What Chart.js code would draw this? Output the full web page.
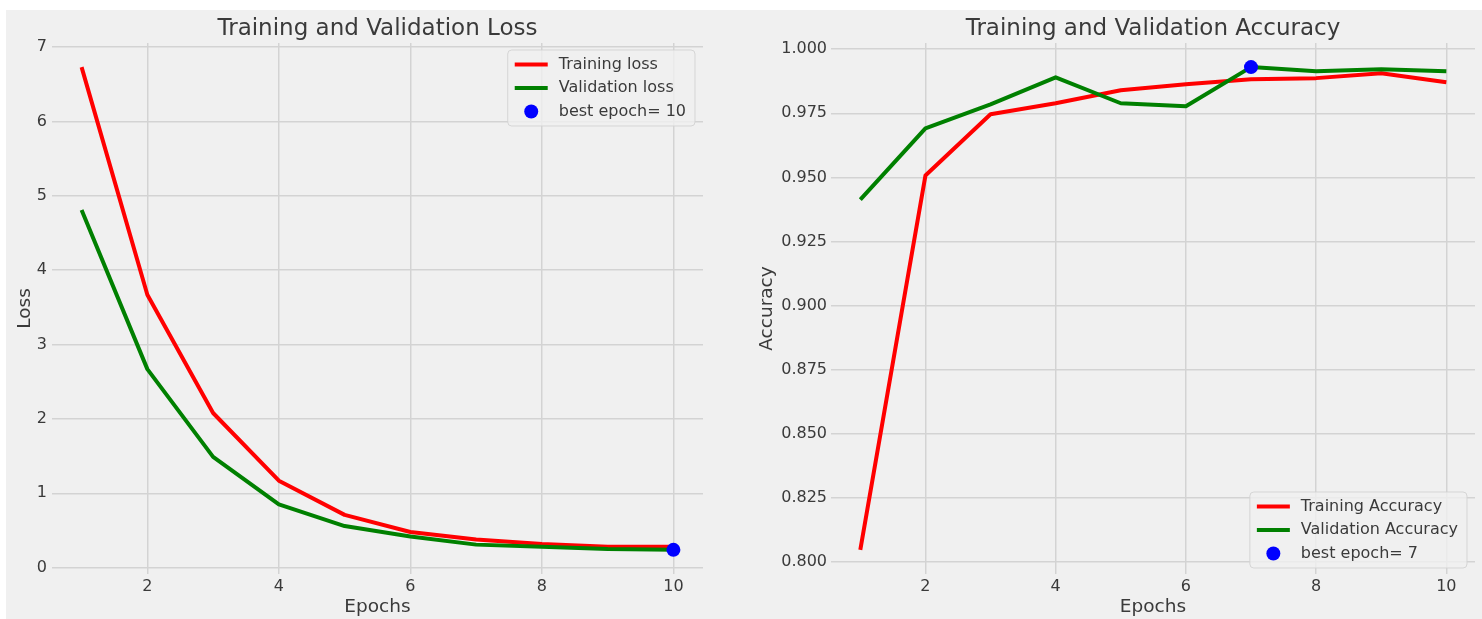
<!DOCTYPE html>
<html>
<head>
<meta charset="utf-8">
<title>Training and Validation Loss / Accuracy</title>
<script src="https://cdn.jsdelivr.net/npm/chart.js@4/dist/chart.umd.min.js"></script>
<style>
  html, body { margin: 0; padding: 0; background: #ffffff; }
  #fig { position: absolute; left: 6px; top: 10px; width: 1476px; height: 609px; background: #f0f0f0; overflow: hidden; }
  #lossCanvas { position: absolute; left: 0; top: 0; }
  #accCanvas { position: absolute; left: 735px; top: 0; }
</style>
</head>
<body>
<div id="fig">
  <canvas id="lossCanvas" width="735" height="609"></canvas>
  <canvas id="accCanvas" width="741" height="609"></canvas>
</div>
<script>
// ---- data ----
const epochs = [1, 2, 3, 4, 5, 6, 7, 8, 9, 10];
const trainLoss = [6.73, 3.67, 2.08, 1.17, 0.71, 0.48, 0.38, 0.32, 0.28, 0.28];
const valLoss = [4.81, 2.67, 1.49, 0.85, 0.56, 0.42, 0.31, 0.28, 0.25, 0.24];
const trainAcc = [0.8047, 0.9507, 0.9746, 0.9789, 0.9840, 0.9863, 0.9883, 0.9887, 0.9906, 0.9871];
const valAcc = [0.9413, 0.9691, 0.9785, 0.9890, 0.9789, 0.9777, 0.9930, 0.9914, 0.9922, 0.9914];
const epochTicks = [2, 4, 6, 8, 10];
const lossTicks = [0, 1, 2, 3, 4, 5, 6, 7];
const accTicks = [0.800, 0.825, 0.850, 0.875, 0.900, 0.925, 0.950, 0.975, 1.000];

// best epoch: lowest validation loss / highest validation accuracy
const bestLossIdx = valLoss.indexOf(Math.min(...valLoss));
const bestAccIdx = valAcc.indexOf(Math.max(...valAcc));

const FONT = '"DejaVu Sans", "Liberation Sans", sans-serif';
const TEXT = '#3a3a3a';
const GRID = '#d3d3d3';

const toPoints = ys => ys.map((y, i) => ({ x: epochs[i], y }));

// title centred over the plotting area
const axTitle = {
  id: 'axTitle',
  afterDraw(chart, args, opts) {
    const { ctx, chartArea } = chart;
    ctx.save();
    ctx.font = '23px ' + FONT;
    ctx.fillStyle = TEXT;
    ctx.textAlign = 'center';
    ctx.textBaseline = 'middle';
    ctx.fillText(opts.text, (chartArea.left + chartArea.right) / 2, opts.y);
    ctx.restore();
  }
};

// framed legend inside a corner of the plotting area
const boxLegend = {
  id: 'boxLegend',
  afterDraw(chart, args, opts) {
    const { ctx, chartArea } = chart;
    const items = chart.data.datasets;
    ctx.save();
    ctx.font = '16px ' + FONT;
    const textW = Math.max(...items.map(d => ctx.measureText(d.label).width));
    const rowH = 23.5;
    const w = 51 + textW + 9;
    const h = 14 + rowH * (items.length - 1) + 15;
    const x = chartArea.right - 8 - w;
    const y = opts.corner === 'top' ? chartArea.top + 7 : chartArea.bottom - 6 - h;

    ctx.beginPath();
    ctx.roundRect(x, y, w, h, 4);
    ctx.fillStyle = 'rgba(240,240,240,0.8)';
    ctx.fill();
    ctx.lineWidth = 1;
    ctx.strokeStyle = 'rgba(210,210,210,0.9)';
    ctx.stroke();

    items.forEach((d, i) => {
      const cy = y + 14.5 + i * rowH;
      if (d.showLine === false) {
        ctx.beginPath();
        ctx.arc(x + 23.5, cy, 7, 0, Math.PI * 2);
        ctx.fillStyle = d.backgroundColor;
        ctx.fill();
      } else {
        ctx.beginPath();
        ctx.moveTo(x + 7, cy);
        ctx.lineTo(x + 40, cy);
        ctx.lineWidth = 4;
        ctx.strokeStyle = d.borderColor;
        ctx.stroke();
      }
      ctx.fillStyle = TEXT;
      ctx.textAlign = 'left';
      ctx.textBaseline = 'middle';
      ctx.fillText(d.label, x + 51, cy);
    });
    ctx.restore();
  }
};

function lineSet(label, ys, color, order) {
  return {
    label, data: toPoints(ys), borderColor: color, backgroundColor: color,
    borderWidth: 4, pointRadius: 0, tension: 0, order,
    borderJoinStyle: 'round', borderCapStyle: 'butt'
  };
}

function bestSet(label, idx, ys) {
  return {
    label, data: [{ x: epochs[idx], y: ys[idx] }], showLine: false,
    pointRadius: 7, pointHoverRadius: 7, borderWidth: 0,
    backgroundColor: '#0000ff', borderColor: '#0000ff', order: 0
  };
}

function makeChart(canvas, cfg) {
  return new Chart(canvas, {
    type: 'line',
    data: { datasets: cfg.datasets },
    options: {
      responsive: false,
      animation: false,
      devicePixelRatio: 1,
      layout: { padding: { top: 33, right: cfg.padRight, bottom: 0, left: 0 } },
      events: [],
      plugins: {
        legend: { display: false },
        tooltip: { enabled: false },
        title: { display: false },
        axTitle: { text: cfg.title, y: 19 },
        boxLegend: { corner: cfg.legendCorner }
      },
      scales: {
        x: {
          type: 'linear',
          min: 0.55, max: cfg.xMax,
          border: { display: false },
          grid: { color: GRID, lineWidth: 1.5, drawTicks: false },
          ticks: { padding: 3, color: TEXT, font: { family: FONT, size: 16 }, maxRotation: 0 },
          afterBuildTicks: s => { s.ticks = epochTicks.map(v => ({ value: v })); },
          afterFit: s => { s.height = 45; },
          title: { display: true, text: 'Epochs', color: TEXT, font: { family: FONT, size: 18.5 }, padding: { top: 0, bottom: 1 } }
        },
        y: {
          type: 'linear',
          min: cfg.yMin, max: cfg.yMax,
          border: { display: false },
          grid: { color: GRID, lineWidth: 1.5, drawTicks: false },
          ticks: {
            padding: cfg.yTickPad, color: TEXT, font: { family: FONT, size: 16 },
            callback: v => cfg.yFmt(v)
          },
          afterBuildTicks: s => { s.ticks = cfg.yTicks.map(v => ({ value: v })); },
          afterFit: s => { s.width = cfg.yWidth; },
          title: { display: true, text: cfg.yLabel, color: TEXT, font: { family: FONT, size: 18.5 }, padding: { top: cfg.yTitlePad, bottom: 0 } }
        }
      }
    },
    plugins: [axTitle, boxLegend]
  });
}

makeChart(document.getElementById('lossCanvas'), {
  title: 'Training and Validation Loss',
  yLabel: 'Loss',
  datasets: [
    lineSet('Training loss', trainLoss, '#ff0000', 2),
    lineSet('Validation loss', valLoss, '#008000', 1),
    bestSet('best epoch= ' + epochs[bestLossIdx], bestLossIdx, valLoss)
  ],
  xMax: 10.45, yMin: -0.085, yMax: 7.055,
  yTicks: lossTicks, yFmt: v => String(v),
  yWidth: 46, padRight: 38, yTickPad: 5, yTitlePad: 8,
  legendCorner: 'top'
});

makeChart(document.getElementById('accCanvas'), {
  title: 'Training and Validation Accuracy',
  yLabel: 'Accuracy',
  datasets: [
    lineSet('Training Accuracy', trainAcc, '#ff0000', 2),
    lineSet('Validation Accuracy', valAcc, '#008000', 1),
    bestSet('best epoch= ' + epochs[bestAccIdx], bestAccIdx, valAcc)
  ],
  xMax: 10.44, yMin: 0.7953, yMax: 1.0024,
  yTicks: accTicks, yFmt: v => v.toFixed(3),
  yWidth: 90, padRight: 0, yTickPad: 4, yTitlePad: 15,
  legendCorner: 'bottom'
});
</script>
</body>
</html>
